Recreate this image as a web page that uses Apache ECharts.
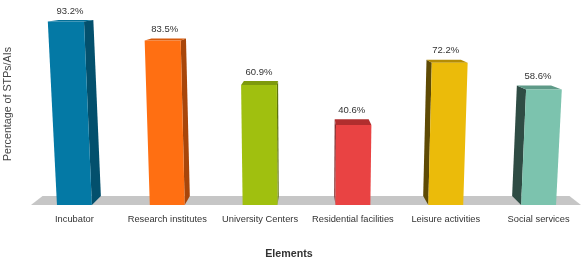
<!DOCTYPE html>
<html><head><meta charset="utf-8">
<script src="https://cdn.jsdelivr.net/npm/echarts@6/dist/echarts.min.js"></script>
<style>html,body{margin:0;padding:0;background:#fff}#c{width:585px;height:260px}</style>
</head><body><div id="c"></div>
<script>
// ---- data ----
const categories = ['Incubator', 'Research institutes', 'University Centers', 'Residential facilities', 'Leisure activities', 'Social services'];
const values = [93.2, 83.5, 60.9, 40.6, 72.2, 58.6];
const valueLabels = ['93.2%', '83.5%', '60.9%', '40.6%', '72.2%', '58.6%'];
const xAxisName = 'Elements';
const yAxisName = 'Percentage of STPs/AIs';

// ---- styles ----
const frontColors = ['#0479A5', '#FF6F12', '#A0C00F', '#E94343', '#EBBB0A', '#7CC3AE'];
const topColors   = ['#046F97', '#D65A0C', '#7E9A0C', '#B02E2E', '#B48C05', '#5E9A88'];
const sideColors  = ['#03506D', '#A8460A', '#5E740A', '#7A2020', '#5E4A04', '#2F4C44'];
const FONT = '"Liberation Sans", Arial, sans-serif';
const K = 0.042;      // depth factor toward vanishing point
const TILT = 0.0002;  // front plane lean
const BAR_FRAC = 0.376;

function proj(cs) {
  const cx = cs.x + cs.width / 2, vy = cs.y - 18;
  return {
    cx: cx,
    back: p => [p[0] + K * (cx - p[0]), p[1] + K * (vy - p[1])],
    tilt: (x, h) => cx + (x - cx) * (1 + TILT * h)
  };
}

function renderFloor(params, api) {
  const cs = params.coordSys;
  const P = proj(cs);
  const y = cs.y + cs.height;
  const fl = [cs.x + 3, y], fr = [cs.x + cs.width - 4, y];
  return {
    type: 'polygon',
    shape: { points: [fl, fr, P.back(fr), P.back(fl)] },
    style: { fill: '#C6C6C6' }
  };
}

function renderBar(params, api) {
  const cs = params.coordSys;
  const P = proj(cs);
  const i = api.value(0), v = api.value(1);
  const base = api.coord([i, 0]);
  const top = api.coord([i, v]);
  const bw = api.size([1, 0])[0] * BAR_FRAC;
  const h = base[1] - top[1];
  const xl = base[0] - bw / 2, xr = base[0] + bw / 2;
  const fBL = [xl, base[1]], fBR = [xr, base[1]];
  const fTL = [P.tilt(xl, h), top[1]], fTR = [P.tilt(xr, h), top[1]];
  const bBL = P.back(fBL), bBR = P.back(fBR), bTL = P.back(fTL), bTR = P.back(fTR);
  const children = [];
  if (fTR[0] < P.cx) {
    children.push({ type: 'polygon', shape: { points: [fTR, bTR, bBR, fBR] }, style: { fill: sideColors[i] } });
  } else if (fTL[0] > P.cx) {
    children.push({ type: 'polygon', shape: { points: [fTL, bTL, bBL, fBL] }, style: { fill: sideColors[i] } });
  }
  children.push({ type: 'polygon', shape: { points: [fTL, fTR, bTR, bTL] }, style: { fill: topColors[i] } });
  children.push({ type: 'polygon', shape: { points: [fTL, fTR, fBR, fBL] }, style: { fill: frontColors[i] } });
  const lx = (fTL[0] + fTR[0] + bTL[0] + bTR[0]) / 4 - 1;
  const ly = Math.min(bTL[1], bTR[1]) - 9;
  children.push({
    type: 'text',
    x: lx, y: ly,
    style: { text: valueLabels[i], font: '9.5px ' + FONT, fill: '#333', align: 'center', verticalAlign: 'middle' }
  });
  return { type: 'group', children: children };
}

const chart = echarts.init(document.getElementById('c'), null, { renderer: 'canvas' });
chart.setOption({
  animation: false,
  backgroundColor: '#fff',
  grid: { left: 28, top: 8, width: 558, height: 197 },
  xAxis: {
    type: 'category',
    data: categories,
    axisLine: { show: false },
    axisTick: { show: false },
    axisLabel: { fontSize: 9.3, color: '#333', margin: 10, fontFamily: FONT, interval: 0 }
  },
  yAxis: { type: 'value', min: 0, max: 100, show: false },
  graphic: [
    { type: 'text', x: 289, y: 254, style: { text: xAxisName, font: 'bold 10.7px ' + FONT, fill: '#333', align: 'center', verticalAlign: 'middle' } },
    { type: 'text', x: 8, y: 104, rotation: Math.PI / 2, style: { text: yAxisName, font: '10.7px ' + FONT, fill: '#444', align: 'center', verticalAlign: 'middle' } }
  ],
  series: [
    { type: 'custom', z: 1, renderItem: renderFloor, data: [[0]], silent: true },
    { type: 'custom', z: 2, renderItem: renderBar, data: values.map((v, i) => [i, v]), silent: true }
  ]
});
</script></body></html>
